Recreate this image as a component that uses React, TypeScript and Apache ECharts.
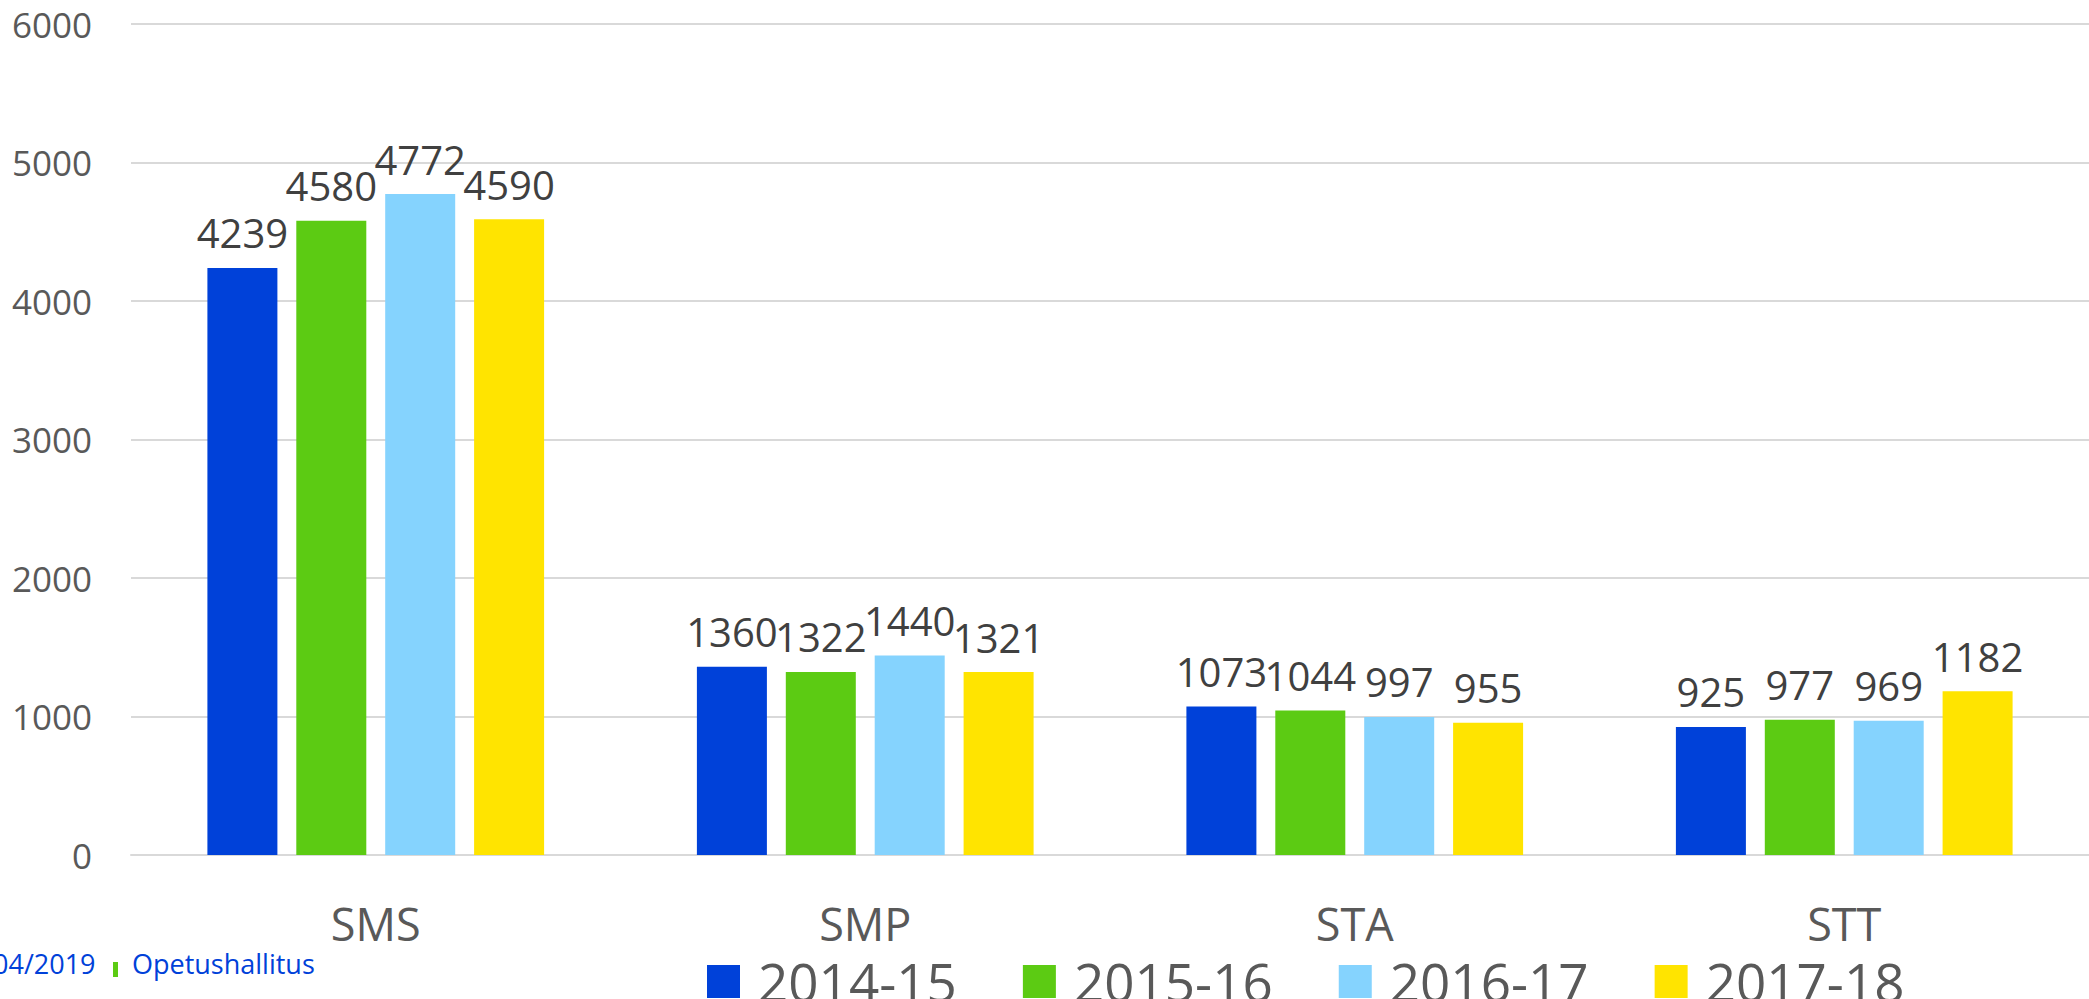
import React, { useEffect, useRef } from "react";
import * as echarts from "echarts";

const categories = ["SMS", "SMP", "STA", "STT"];
const seriesNames = ["2014-15", "2015-16", "2016-17", "2017-18"];
const values2014 = [4239, 1360, 1073, 925];
const values2015 = [4580, 1322, 1044, 977];
const values2016 = [4772, 1440, 997, 969];
const values2017 = [4590, 1321, 955, 1182];
const seriesColors = ["#0041D9", "#5CCB13", "#85D3FE", "#FFE400"];
const yTicks = { min: 0, max: 6000, interval: 1000 };
const footerDate = "04/2019";
const footerOrg = "Opetushallitus";

const FONT = "'Open Sans', 'Noto Sans', sans-serif";

export default function App() {
  const ref = useRef<HTMLDivElement>(null);
  useEffect(() => {
    if (!ref.current) return;
    const chart = echarts.init(ref.current, undefined, { renderer: "svg" });
    const all = [values2014, values2015, values2016, values2017];
    chart.setOption({
      animation: false,
      backgroundColor: "#ffffff",
      textStyle: { fontFamily: FONT },
      grid: { left: 131, right: 0, top: 24, bottom: 144, containLabel: false },
      legend: {
        data: seriesNames,
        left: 707,
        top: 955,
        padding: 0,
        itemWidth: 33,
        itemHeight: 33,
        itemGap: 66,
        icon: "rect",
        textStyle: {
          fontSize: 53,
          lineHeight: 44,
          color: "#595959",
          fontFamily: FONT,
          padding: [0, 0, 0, 13],
        },
      },
      xAxis: {
        type: "category",
        data: categories,
        axisLine: { show: true, lineStyle: { color: "#d9d9d9", width: 2 } },
        axisTick: { show: false },
        axisLabel: {
          fontSize: 45,
          lineHeight: 45,
          color: "#595959",
          margin: 46,
          fontFamily: FONT,
        },
      },
      yAxis: {
        type: "value",
        min: yTicks.min,
        max: yTicks.max,
        interval: yTicks.interval,
        axisLine: { show: false },
        axisTick: { show: false },
        splitLine: { lineStyle: { color: "#d9d9d9", width: 2 } },
        axisLabel: {
          fontSize: 35,
          color: "#595959",
          margin: 39,
          fontFamily: FONT,
          formatter: (v: number) => String(v),
        },
      },
      series: seriesNames.map((name, i) => ({
        name,
        type: "bar",
        data: all[i],
        barWidth: 70,
        barGap: "27%",
        itemStyle: { color: seriesColors[i] },
        label: {
          show: true,
          position: "top",
          distance: 15,
          fontSize: 40,
          color: "#404040",
          fontFamily: FONT,
        },
      })),
      graphic: [
        {
          type: "text",
          left: -7,
          top: 950,
          style: { text: footerDate, fontSize: 27, fill: "#0041D9", fontFamily: FONT },
        },
        {
          type: "rect",
          shape: { x: 113, y: 962, width: 5, height: 15 },
          style: { fill: "#5CCB13" },
        },
        {
          type: "text",
          left: 132,
          top: 950,
          style: { text: footerOrg, fontSize: 27, fill: "#0041D9", fontFamily: FONT },
        },
      ],
    });
    return () => chart.dispose();
  }, []);
  return (
    <div
      ref={ref}
      style={{ position: "fixed", left: 0, top: 0, width: 2089, height: 999 }}
    />
  );
}
